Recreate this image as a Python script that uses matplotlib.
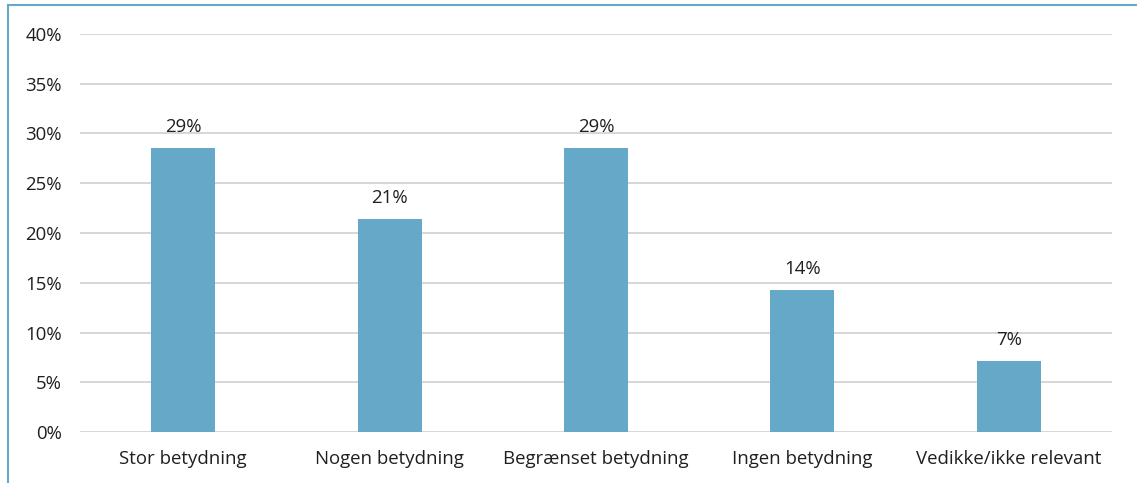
import matplotlib.pyplot as plt
from matplotlib.lines import Line2D
import numpy as np

plt.rcParams['font.family'] = ['Open Sans', 'DejaVu Sans']

kategorier = ['Stor betydning', 'Nogen betydning', 'Begrænset betydning',
              'Ingen betydning', 'Vedikke/ikke relevant']
andele = [28.57, 21.43, 28.57, 14.29, 7.14]
etiketter = ['29%', '21%', '29%', '14%', '7%']
yticks = [0, 5, 10, 15, 20, 25, 30, 35, 40]

W, H = 1137, 483
fig = plt.figure(figsize=(W / 100, H / 100), dpi=100)
ax = fig.add_axes([80 / W, 1 - 432 / H, (1112 - 80) / W, (432 - 34) / H])

x = np.arange(len(kategorier))
ax.bar(x, andele, width=0.31, color='#65a8c8', zorder=3)
for xi, v, lab in zip(x, andele, etiketter):
    ax.text(xi, v + 1.2, lab, ha='center', va='bottom', fontsize=13.4, color='#1f1f1f')

ax.set_xlim(-0.5, len(kategorier) - 0.5)
ax.set_ylim(0, 40)
ax.set_yticks(yticks)
ax.set_yticklabels([f'{t}%' for t in yticks])
ax.set_xticks(x)
ax.set_xticklabels(kategorier)
ax.tick_params(axis='both', length=0, labelsize=13.4, labelcolor='#1f1f1f')
ax.tick_params(axis='y', pad=13)
ax.tick_params(axis='x', pad=13)
ax.grid(axis='y', color='#d6d6d6', linewidth=1.4, zorder=0)
for s in ax.spines.values():
    s.set_visible(False)

# ramme (kun venstre og top synlig)
fig.add_artist(Line2D([7.5 / W, 7.5 / W], [0, 1 - 5 / H], color='#65a8c8', linewidth=1.5,
                      transform=fig.transFigure))
fig.add_artist(Line2D([7.5 / W, 1], [1 - 5 / H, 1 - 5 / H], color='#65a8c8', linewidth=1.5,
                      transform=fig.transFigure))

fig.savefig('out.png', dpi=100)
